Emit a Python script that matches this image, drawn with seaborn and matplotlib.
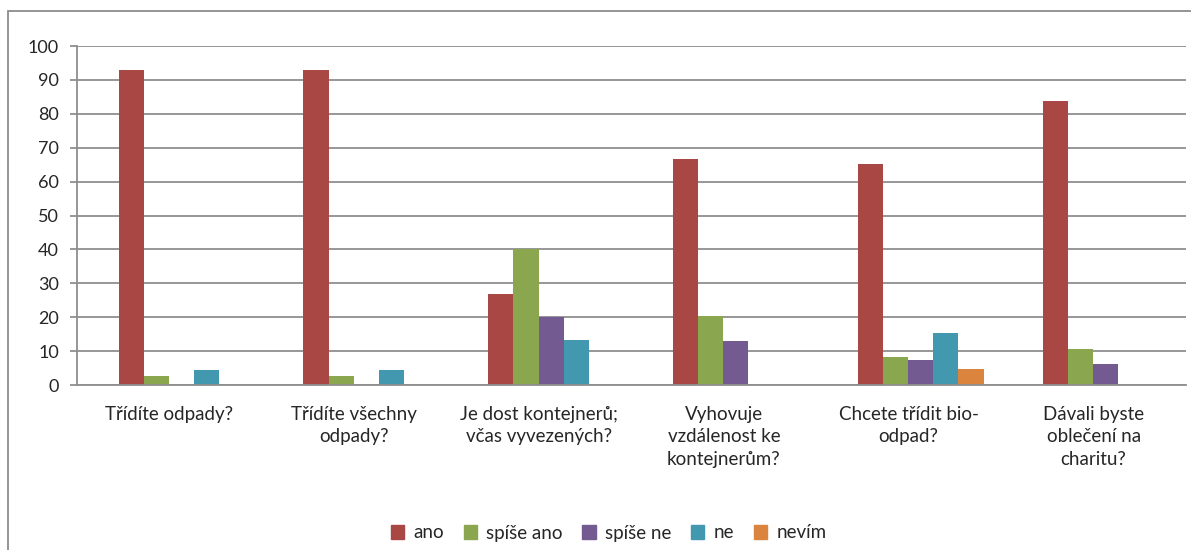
import pandas as pd
import matplotlib.pyplot as plt
import matplotlib.patches as mpatches
import seaborn as sns

categories = ['Třídíte odpady?', 'Třídíte všechny\nodpady?', 'Je dost kontejnerů;\nvčas vyvezených?',
              'Vyhovuje\nvzdálenost ke\nkontejnerům?', 'Chcete třídit bio-\nodpad?',
              'Dávali byste\noblečení na\ncharitu?']
answers = ['ano', 'spíše ano', 'spíše ne', 'ne', 'nevím']

ano = [93, 93, 26.7, 66.7, 65.3, 83.8]
spise_ano = [2.8, 2.8, 40, 20.5, 8.2, 10.5]
spise_ne = [0, 0, 20, 13, 7.3, 6.1]
ne = [4.3, 4.3, 13.3, 0, 15.3, 0]
nevim = [0, 0, 0, 0, 4.8, 0]

barvy = ['#A94744', '#8AA64E', '#735A90', '#4298AF', '#DB843D']

rows = []
for ans, vals in zip(answers, [ano, spise_ano, spise_ne, ne, nevim]):
    for cat, v in zip(categories, vals):
        rows.append({'otazka': cat, 'odpoved': ans, 'procenta': v})
df = pd.DataFrame(rows)

sns.set_style('white')
plt.rcParams['font.family'] = ['Lato', 'DejaVu Sans']

fig = plt.figure(figsize=(11.91, 5.5), dpi=100)
ax = fig.add_axes([77 / 1191, 165 / 550, 1109 / 1191, 339 / 550])

sns.barplot(data=df, x='otazka', y='procenta', hue='odpoved', order=categories,
            hue_order=answers, palette=barvy, saturation=1, width=0.68, linewidth=0,
            ax=ax, legend=False)

# posun sloupců vůči kategoriím jako v Excelu
d = 0.065
ax.set_xlim(-0.5 - d, len(categories) - 0.5 - d)
ax.set_ylim(0, 100)
ax.set_yticks(range(0, 101, 10))
ax.yaxis.grid(True, color='#8f8f8f', linewidth=1.3)
ax.set_axisbelow(True)
ax.set_xticks([i - d for i in range(len(categories))])
ax.set_xticklabels(categories, fontsize=13.5, linespacing=1.4)
ax.set_xticks([i - 0.5 - d for i in range(len(categories) + 1)], minor=True)
ax.tick_params(axis='x', which='major', length=0, pad=15)
ax.tick_params(axis='x', which='minor', length=6, width=1.3, color='#8f8f8f', direction='out')
ax.tick_params(axis='y', length=5, width=1.3, color='#8f8f8f', labelsize=13, pad=8, left=True)
ax.set_xlabel('')
ax.set_ylabel('')
for s in ['top', 'right']:
    ax.spines[s].set_visible(False)
for s in ['left', 'bottom']:
    ax.spines[s].set_color('#8f8f8f')
    ax.spines[s].set_linewidth(1.3)

handles = [mpatches.Patch(color=c, label=a) for a, c in zip(answers, barvy)]
fig.legend(handles=handles, loc='center', bbox_to_anchor=(0.511, 1 - 533 / 550), ncol=5,
           frameon=False, fontsize=13.5, handlelength=0.7, handleheight=0.7,
           handletextpad=0.5, columnspacing=1.05)

# rámeček grafu
ramec = mpatches.Rectangle((8 / 1191, -0.05), 1.2, 1 - 11 / 550 + 0.05, transform=fig.transFigure,
                           fill=False, edgecolor='#8c8c8c', linewidth=1.3)
fig.patches.append(ramec)

fig.savefig('out.png', dpi=100)
